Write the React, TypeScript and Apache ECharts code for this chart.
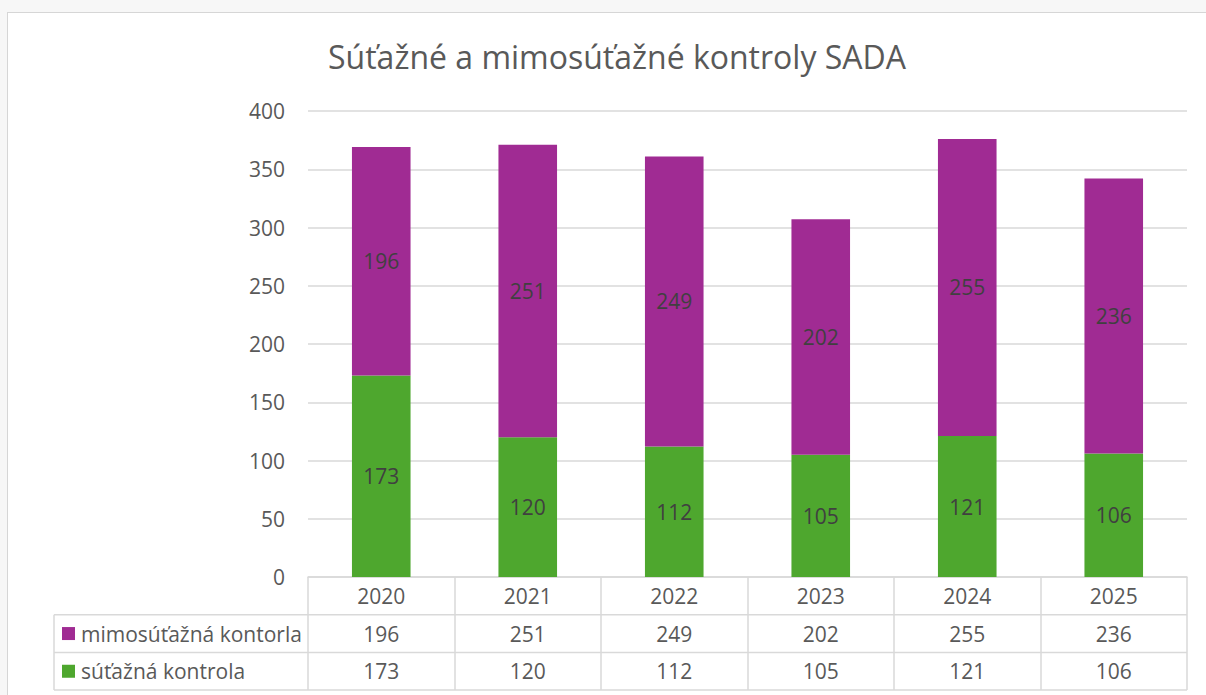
import React, { useEffect, useRef } from "react";
import * as echarts from "echarts";

const years = ["2020", "2021", "2022", "2023", "2024", "2025"];
const mimoName = "mimosúťažná kontorla";
const sutName = "súťažná kontrola";
const mimoValues = [196, 251, 249, 202, 255, 236];
const sutValues = [173, 120, 112, 105, 121, 106];
const titleText = "Súťažné a mimosúťažné kontroly SADA";

const PURPLE = "#A02B93";
const GREEN = "#4EA72E";
const TEXT = "#595959";
const LABEL = "#404040";
const BORDER = "#d9d9d9";
const FONT = "'Open Sans', 'Noto Sans', sans-serif";

const GRID_LEFT = 308;
const GRID_RIGHT_X = 1187;
const GRID_TOP = 111;
const GRID_BOTTOM_Y = 577;
const ROW_H = 37.7;
const TABLE_LEFT = 54;

export default function App() {
  const ref = useRef<HTMLDivElement>(null);
  useEffect(() => {
    if (!ref.current) return;
    const chart = echarts.init(ref.current, null, { renderer: "svg" });
    const r1 = GRID_BOTTOM_Y + ROW_H;
    const r2 = GRID_BOTTOM_Y + ROW_H * 2;
    const r3 = GRID_BOTTOM_Y + ROW_H * 3;
    const hline = (y: number) => ({
      type: "line",
      shape: { x1: TABLE_LEFT, y1: y, x2: GRID_RIGHT_X, y2: y },
      style: { stroke: BORDER, lineWidth: 1.5 },
    });
    const legendRow = (yc: number, color: string, name: string) => [
      { type: "rect", shape: { x: 62, y: yc - 6.5, width: 13, height: 13 }, style: { fill: color } },
      {
        type: "text",
        x: 81,
        y: yc,
        style: { text: name, fill: TEXT, font: `21px ${FONT}`, textVerticalAlign: "middle", verticalAlign: "middle" },
      },
    ];
    chart.setOption({
      animation: false,
      backgroundColor: "transparent",
      title: {
        text: titleText,
        left: 612,
        top: 35,
        textAlign: "center",
        textStyle: { color: TEXT, fontFamily: FONT, fontSize: 32, fontWeight: "normal" },
      },
      grid: {
        left: GRID_LEFT,
        right: 1206 - GRID_RIGHT_X,
        top: GRID_TOP,
        bottom: 695 - GRID_BOTTOM_Y,
        containLabel: false,
      },
      xAxis: {
        type: "category",
        data: years,
        axisLine: { show: true, lineStyle: { color: BORDER, width: 1.5 } },
        axisTick: { show: true, interval: 0, length: ROW_H * 3, lineStyle: { color: BORDER, width: 1.5 } },
        axisLabel: {
          interval: 0,
          margin: 0,
          color: TEXT,
          fontFamily: FONT,
          fontSize: 21,
          lineHeight: ROW_H,
          formatter: (v: string, i: number) => `${v}\n${mimoValues[i]}\n${sutValues[i]}`,
        },
      },
      yAxis: {
        type: "value",
        min: 0,
        max: 400,
        interval: 50,
        axisLine: { show: false },
        axisTick: { show: false },
        splitLine: { lineStyle: { color: BORDER, width: 1.5 } },
        axisLabel: { color: TEXT, fontFamily: FONT, fontSize: 21, margin: 23 },
      },
      series: [
        {
          name: sutName,
          type: "bar",
          stack: "total",
          barWidth: "40%",
          data: sutValues,
          itemStyle: { color: GREEN },
          label: { show: true, position: "inside", color: LABEL, fontFamily: FONT, fontSize: 21 },
        },
        {
          name: mimoName,
          type: "bar",
          stack: "total",
          barWidth: "40%",
          data: mimoValues,
          itemStyle: { color: PURPLE },
          label: { show: true, position: "inside", color: LABEL, fontFamily: FONT, fontSize: 21 },
        },
      ],
      graphic: [
        hline(r1),
        hline(r2),
        hline(r3),
        {
          type: "line",
          shape: { x1: TABLE_LEFT, y1: r1, x2: TABLE_LEFT, y2: r3 },
          style: { stroke: BORDER, lineWidth: 1.5 },
        },
        ...legendRow((r1 + r2) / 2, PURPLE, mimoName),
        ...legendRow((r2 + r3) / 2, GREEN, sutName),
      ],
    });
    return () => chart.dispose();
  }, []);

  return (
    <div style={{ position: "fixed", left: 0, top: 0, width: 1206, height: 695, background: "#f7f7f7", overflow: "hidden" }}>
      <div
        style={{
          position: "absolute",
          left: 7,
          top: 12,
          width: 1240,
          height: 720,
          background: "#ffffff",
          border: "1.5px solid #d6d6d6",
        }}
      />
      <div ref={ref} style={{ position: "absolute", left: 0, top: 0, width: 1206, height: 695 }} />
    </div>
  );
}
